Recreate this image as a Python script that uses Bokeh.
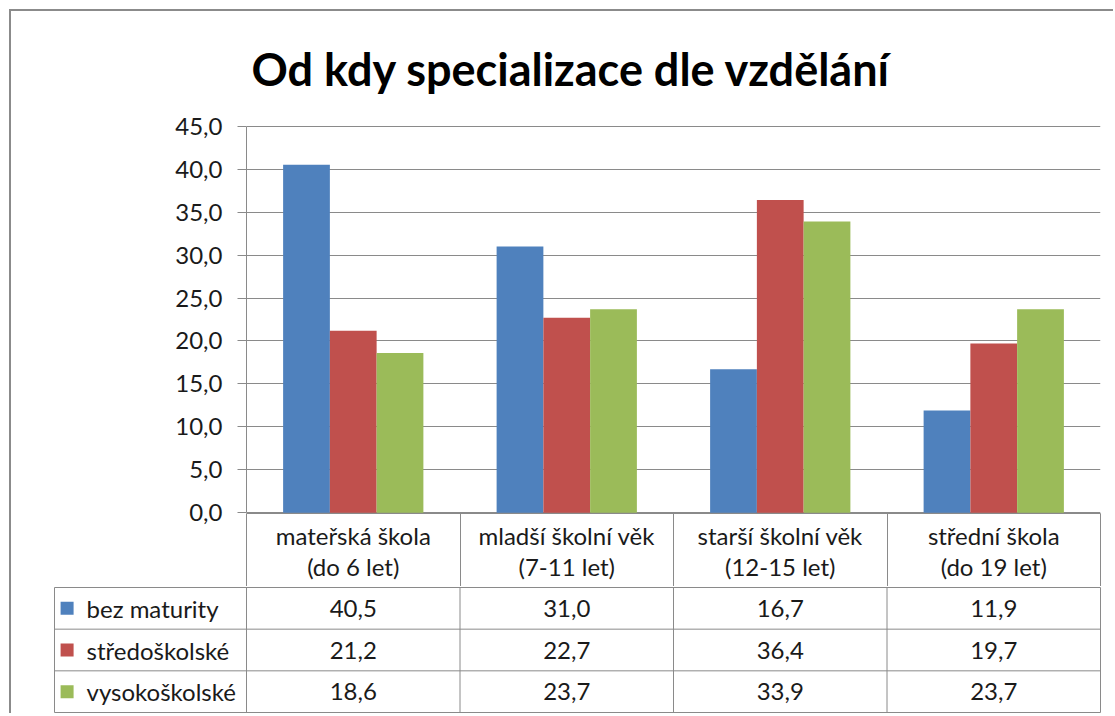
from bokeh.plotting import figure
from bokeh.models import Range1d, FixedTicker, CustomJSTickFormatter, ColumnDataSource
from bokeh.layouts import column
from bokeh.embed import file_html
from bokeh.resources import INLINE
from bokeh.core.properties import value

# ---------------- data ----------------
title_text = "Od kdy specializace dle vzdělání"
cat_labels = ["mateřská škola\n(do 6 let)", "mladší školní věk\n(7-11 let)",
              "starší školní věk\n(12-15 let)", "střední škola\n(do 19 let)"]
series_names = ["bez maturity", "středoškolské", "vysokoškolské"]
bez_maturity = [40.5, 31.0, 16.7, 11.9]
stredoskolske = [21.2, 22.7, 36.4, 19.7]
vysokoskolske = [18.6, 23.7, 33.9, 23.7]
y_ticks = [0, 5, 10, 15, 20, 25, 30, 35, 40, 45]

# ---------------- style ----------------
colors = ["#4F81BD", "#C0504D", "#9BBB59"]
grid_col = "#8a8a8a"
txt_col = "#1a1a1a"
FONT = "Lato"
FS = "24px"
bar_w = 0.219
n_cat = len(cat_labels)
values = [bez_maturity, stredoskolske, vysokoskolske]

def fmt(v):
    return f"{v:.1f}".replace(".", ",")

# ---------------- chart ----------------
p = figure(width=1102, height=575, x_range=Range1d(0, n_cat), y_range=Range1d(-0.08, 45.08),
           output_backend="svg", toolbar_location=None,
           min_border_left=235, min_border_right=13, min_border_top=114, min_border_bottom=73,
           frame_align=False)
p.outline_line_color = None
p.background_fill_color = "white"
p.border_fill_color = "white"

for k, (vals, col) in enumerate(zip(values, colors)):
    xs = [i + 0.5 + (k - 1) * bar_w for i in range(n_cat)]
    src = ColumnDataSource(dict(x=xs, top=vals))
    p.vbar(x="x", top="top", bottom=0, width=bar_w, source=src,
           fill_color=col, line_color=None)

ay = p.yaxis[0]
ay.ticker = FixedTicker(ticks=y_ticks)
ay.formatter = CustomJSTickFormatter(code="return tick.toFixed(1).replace('.', ',');")
ay.bounds = (0, 45)
ay.axis_line_color = grid_col
ay.major_tick_line_color = grid_col
ay.major_tick_out = 9
ay.major_tick_in = 0
ay.minor_tick_line_color = None
ay.major_label_standoff = 15
ay.major_label_text_font = FONT
ay.major_label_text_font_size = FS
ay.major_label_text_color = txt_col

ax = p.xaxis[0]
ax.ticker = FixedTicker(ticks=[i + 0.5 for i in range(n_cat)], minor_ticks=list(range(n_cat + 1)))
ax.formatter = CustomJSTickFormatter(args=dict(labels=cat_labels),
                                     code="return labels[Math.round(tick - 0.5)];")
ax.axis_line_color = grid_col
ax.major_tick_line_color = None
ax.major_tick_out = 0
ax.major_tick_in = 0
ax.minor_tick_line_color = grid_col
ax.minor_tick_out = 73
ax.minor_tick_in = 0
ax.major_label_standoff = -66
ax.major_label_text_font = FONT
ax.major_label_text_font_size = FS
ax.major_label_text_color = txt_col
ax.major_label_text_line_height = 1.1

p.xgrid.grid_line_color = None
p.ygrid.ticker = FixedTicker(ticks=y_ticks)
p.ygrid.grid_line_color = grid_col

p.title.text = title_text
p.title.text_font = FONT
p.title.text_font_style = "bold"
p.title.text_font_size = "45px"
p.title.text_color = "black"
p.title.align = "left"
p.title.offset = 5
p.title.vertical_align = "middle"
p.title.standoff = 58

# ---------------- data table rows ----------------
S = 213.5
x_lo = -(246 - 51) / S
x_hi = (1103 - 246) / S
x_left_line = -(246 - 54) / S
n_rows = len(series_names)
t = figure(width=1102, height=127, x_range=Range1d(x_lo, x_hi),
           y_range=Range1d(-n_rows - 0.024, 0.024),
           output_backend="svg", toolbar_location=None, x_axis_location=None, y_axis_location=None,
           min_border_left=40, min_border_right=10, min_border_top=0, min_border_bottom=0,
           frame_align=False)
t.outline_line_color = None
t.xgrid.grid_line_color = None
t.ygrid.grid_line_color = None
t.background_fill_color = "white"
t.border_fill_color = "white"

hy = [-r for r in range(n_rows + 1)]
t.segment(x0=[x_left_line] * len(hy), y0=hy, x1=[n_cat] * len(hy), y1=hy,
          line_color=grid_col, line_width=1)
vx = [x_left_line] + list(range(n_cat + 1))
t.segment(x0=vx, y0=[-n_rows] * len(vx), x1=vx, y1=[0] * len(vx),
          line_color=grid_col, line_width=1)

cx = [i + 0.5 for i in range(n_cat)]
for k, (name, vals, col) in enumerate(zip(series_names, values, colors)):
    yc = -0.5 - k
    t.scatter(x=[x_left_line + 0.059], y=[yc], marker="square", size=13,
              fill_color=col, line_color=None)
    t.text(x=[x_left_line + 0.150], y=[yc], text=[name], text_align="left", text_baseline="middle",
           text_font=value(FONT), text_font_size=FS, text_color=txt_col)
    t.text(x=cx, y=[yc] * n_cat, text=[fmt(v) for v in vals], text_align="center",
           text_baseline="middle", text_font=value(FONT), text_font_size=FS, text_color=txt_col)

layout = column(p, t, spacing=0,
                styles={"margin-left": "9px", "margin-top": "9px",
                        "border-left": "2px solid #8b8b8b", "border-top": "2px solid #8b8b8b"})

open("out.html", "w").write(file_html(layout, INLINE))
